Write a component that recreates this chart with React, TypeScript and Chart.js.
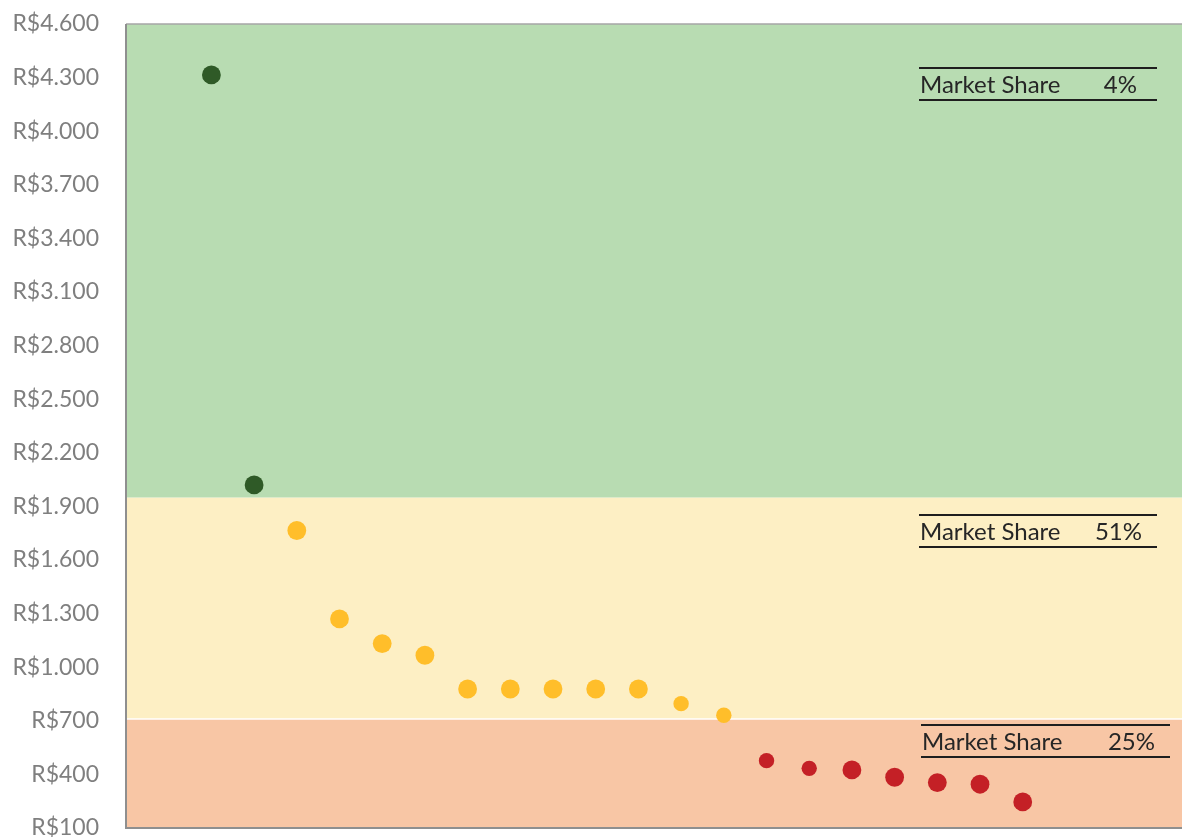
import { useEffect, useRef } from "react";
import { Chart, registerables } from "chart.js";

Chart.register(...registerables);

// ---- data ----
const premiumPositions = [2, 3];
const premiumPrices = [4315, 2020];
const midPositions = [4, 5, 6, 7, 8, 9, 10, 11, 12, 13, 14];
const midPrices = [1765, 1270, 1132, 1067, 878, 878, 878, 878, 878, 796, 731];
const lowPositions = [15, 16, 17, 18, 19, 20, 21];
const lowPrices = [477, 434, 425, 384, 354, 345, 246];
const yTickValues = [100, 400, 700, 1000, 1300, 1600, 1900, 2200, 2500, 2800, 3100, 3400, 3700, 4000, 4300, 4600];
const bandLimits = [100, 710, 1950, 4600]; // low / mid / premium price zones
const shareLabel = "Market Share";
const shareValues = ["4%", "51%", "25%"];

// ---- styles ----
const BIG = 9.4;
const SMALL = 7.7;
const premiumRadii = [BIG, BIG];
const midRadii = [BIG, BIG, BIG, BIG, BIG, BIG, BIG, BIG, BIG, SMALL, SMALL];
const lowRadii = [SMALL, SMALL, BIG, BIG, BIG, BIG, BIG];
const bandColors = ["#F8C6A5", "#FDEFC4", "#B8DCB2"];
const shareBoxes = [
  { x1: 919, x2: 1157, top: 68, bottom: 100, pctRight: 1137 },
  { x1: 919, x2: 1157, top: 515, bottom: 547, pctRight: 1142 },
  { x1: 921, x2: 1170, top: 725, bottom: 757, pctRight: 1155 },
];

function formatBRL(v: number): string {
  const s = Math.round(v).toString();
  return "R$" + s.replace(/\B(?=(\d{3})+(?!\d))/g, ".");
}

const bandsPlugin = {
  id: "bands",
  beforeDatasetsDraw(chart: any) {
    const { ctx, chartArea, scales } = chart;
    const y = scales.y;
    ctx.save();
    for (let i = 0; i < bandLimits.length - 1; i++) {
      const yTop = y.getPixelForValue(bandLimits[i + 1]);
      const yBot = y.getPixelForValue(bandLimits[i]);
      ctx.fillStyle = bandColors[i];
      ctx.fillRect(chartArea.left, yTop, chartArea.right - chartArea.left, yBot - yTop);
    }
    const ySep = y.getPixelForValue(bandLimits[1]);
    ctx.strokeStyle = "#ffffff";
    ctx.lineWidth = 1.5;
    ctx.beginPath();
    ctx.moveTo(chartArea.left, ySep);
    ctx.lineTo(chartArea.right, ySep);
    ctx.stroke();
    ctx.strokeStyle = "#A6A6A6";
    ctx.lineWidth = 1.5;
    ctx.beginPath();
    ctx.moveTo(chartArea.right, chartArea.top);
    ctx.lineTo(chartArea.left, chartArea.top);
    ctx.stroke();
    ctx.strokeStyle = "#8F8F8F";
    ctx.lineWidth = 2;
    ctx.beginPath();
    ctx.moveTo(chartArea.left, chartArea.top);
    ctx.lineTo(chartArea.left, chartArea.bottom);
    ctx.lineTo(chartArea.right, chartArea.bottom);
    ctx.stroke();
    ctx.restore();
  },
};

const sharePlugin = {
  id: "shares",
  afterDatasetsDraw(chart: any) {
    const { ctx } = chart;
    ctx.save();
    shareBoxes.forEach((b, i) => {
      ctx.strokeStyle = "#1E1E1E";
      ctx.lineWidth = 2;
      ctx.beginPath();
      ctx.moveTo(b.x1, b.top);
      ctx.lineTo(b.x2, b.top);
      ctx.moveTo(b.x1, b.bottom);
      ctx.lineTo(b.x2, b.bottom);
      ctx.stroke();
      ctx.fillStyle = "#262626";
      ctx.font = "24px Lato";
      ctx.textBaseline = "middle";
      const cy = (b.top + b.bottom) / 2 + 1;
      ctx.textAlign = "left";
      ctx.fillText(shareLabel, b.x1 + 1, cy);
      ctx.textAlign = "right";
      ctx.fillText(shareValues[i], b.pctRight, cy);
    });
    ctx.restore();
  },
};

function toPoints(xs: number[], ys: number[]) {
  return xs.map((x, i) => ({ x, y: ys[i] }));
}

export default function App() {
  const ref = useRef<HTMLCanvasElement>(null);
  useEffect(() => {
    document.body.style.margin = "0";
    const chart = new Chart(ref.current!, {
      type: "scatter",
      data: {
        datasets: [
          {
            label: "Premium",
            data: toPoints(premiumPositions, premiumPrices),
            backgroundColor: "#2F5A27",
            borderWidth: 0,
            pointRadius: premiumRadii,
          },
          {
            label: "Intermediário",
            data: toPoints(midPositions, midPrices),
            backgroundColor: "#FFBE2A",
            borderWidth: 0,
            pointRadius: midRadii,
          },
          {
            label: "Econômico",
            data: toPoints(lowPositions, lowPrices),
            backgroundColor: "#C42026",
            borderWidth: 0,
            pointRadius: lowRadii,
          },
        ],
      },
      options: {
        responsive: false,
        animation: false,
        layout: { autoPadding: false, padding: { top: 24, bottom: 9, left: 0, right: 0 } },
        plugins: { legend: { display: false }, tooltip: { enabled: false } },
        scales: {
          x: { type: "linear", min: 0, max: 24.73, display: false },
          y: {
            type: "linear",
            min: 100,
            max: 4600,
            border: { display: false },
            grid: { display: false, drawTicks: false },
            afterBuildTicks: (scale: any) => {
              scale.ticks = yTickValues.map((v) => ({ value: v }));
            },
            afterFit: (scale: any) => {
              scale.width = 126;
              scale.paddingTop = 0;
              scale.paddingBottom = 0;
            },
            ticks: {
              padding: 27,
              color: "#7F7F7F",
              font: { family: "Lato", size: 23 },
              callback: (v: any) => formatBRL(Number(v)),
            },
          },
        },
      },
      plugins: [bandsPlugin, sharePlugin],
    });
    return () => chart.destroy();
  }, []);
  return (
    <div style={{ position: "absolute", left: 0, top: 0, width: 1182, height: 837, background: "#fff" }}>
      <canvas ref={ref} width={1182} height={837} />
    </div>
  );
}
